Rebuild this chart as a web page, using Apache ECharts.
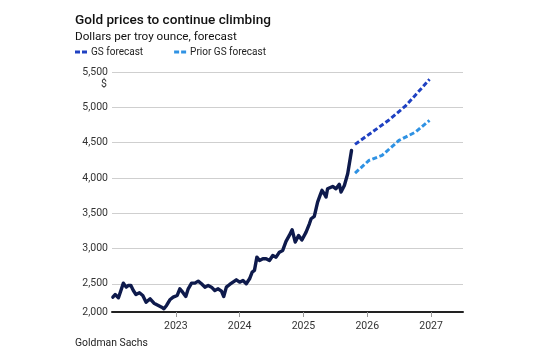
<!DOCTYPE html>
<html><head><meta charset="utf-8">
<script src="https://cdn.jsdelivr.net/npm/echarts@6/dist/echarts.min.js"></script>
<style>html,body{margin:0;padding:0;background:#fff}#c{width:540px;height:360px}</style>
</head><body><div id="c"></div>
<script>
// ---- data ----
const histDates = ['2022-01-06','2022-01-19','2022-02-07','2022-02-21','2022-03-07','2022-03-23','2022-04-05','2022-04-19','2022-05-03','2022-05-18','2022-06-07','2022-06-26','2022-07-15','2022-08-07','2022-08-29','2022-09-23','2022-10-12','2022-10-25','2022-11-09','2022-11-28','2022-12-17','2023-01-09','2023-01-24','2023-02-09','2023-02-27','2023-03-13','2023-04-01','2023-04-20','2023-05-09','2023-05-28','2023-06-16','2023-07-05','2023-07-24','2023-08-12','2023-08-31','2023-09-19','2023-10-02','2023-10-17','2023-11-05','2023-11-24','2023-12-13','2024-01-01','2024-01-20','2024-02-08','2024-02-27','2024-03-13','2024-03-26','2024-04-09','2024-04-24','2024-05-13','2024-06-01','2024-06-20','2024-07-09','2024-07-28','2024-08-16','2024-09-04','2024-09-23','2024-10-12','2024-10-28','2024-11-15','2024-12-04','2024-12-23','2025-01-16','2025-02-04','2025-02-14','2025-03-04','2025-03-23','2025-04-06','2025-04-17','2025-04-30','2025-05-10','2025-05-19','2025-06-17','2025-07-06','2025-07-25','2025-08-04','2025-08-23','2025-09-02','2025-09-11','2025-10-03'];
const histValues = [2310,2348,2301,2405,2509,2452,2476,2476,2405,2348,2372,2334,2239,2287,2225,2193,2168,2146,2193,2273,2310,2334,2429,2381,2320,2429,2509,2509,2537,2500,2452,2476,2452,2405,2429,2395,2320,2452,2490,2523,2556,2523,2547,2500,2571,2665,2689,2877,2830,2854,2854,2830,2901,2877,2948,2972,3100,3185,3265,3090,3185,3120,3232,3350,3421,3454,3657,3752,3823,3776,3728,3846,3879,3846,3908,3799,3893,3870,4059,4390];
const gsDates = ['2025-10-23','2026-01-30','2026-05-05','2026-08-08','2026-10-04','2026-12-23'];
const gsValues = [4475,4650,4820,5020,5175,5396];
const priorDates = ['2025-10-23','2026-01-11','2026-03-27','2026-07-01','2026-10-04','2026-12-23'];
const priorValues = [4068,4248,4319,4531,4649,4815];
const xTickYears = [2023,2024,2025,2026,2027];
const seriesNames = ['Gold price','GS forecast','Prior GS forecast'];

// ---- helpers ----
const toYear = s => { const [y,m,d] = s.split('-').map(Number); const t = Date.UTC(y,m-1,d), a = Date.UTC(y,0,1), b = Date.UTC(y+1,0,1); return y + (t-a)/(b-a); };
const pts = (ds, vs) => ds.map((d,i) => [toYear(d), vs[i]]);
const FONT = 'Roboto';
const fmt = v => v.toLocaleString('en-US');

const chart = echarts.init(document.getElementById('c'), null, {renderer:'canvas'});
chart.setOption({
  animation: false,
  backgroundColor: '#fff',
  grid: {left: 112, right: 77, top: 72, bottom: 48},
  legend: {
    data: [seriesNames[1], seriesNames[2]],
    left: 75, top: 47, padding: 0, itemWidth: 12, itemHeight: 3, itemGap: 31,
    icon: 'path://M0,0h5v3h-5z M7,0h5v3h-5z',
    textStyle: {fontFamily: FONT, fontSize: 10, color: '#222', padding: [0,0,0,-1]}
  },
  graphic: [
    {type:'text', left: 75, top: 14, style:{text:'Gold prices to continue climbing', font:'500 13.6px '+FONT, fill:'#111'}},
    {type:'text', left: 75, top: 31, style:{text:'Dollars per troy ounce, forecast', font:'11.7px '+FONT, fill:'#111'}},
    {type:'text', left: 75, top: 338, style:{text:'Goldman Sachs', font:'10.4px '+FONT, fill:'#222'}},
    {type:'text', x: 107, y: 84, style:{text:'$', font:'10.5px '+FONT, fill:'#333', align:'right', verticalAlign:'middle'}}
  ],
  xAxis: {
    type: 'value', min: 2022, max: 2027.5, interval: 1,
    axisLine: {show: true, lineStyle: {color: '#222', width: 2}},
    axisTick: {show: true, length: 5, lineStyle: {color: '#999'}, customValues: xTickYears},
    axisLabel: {customValues: xTickYears, margin: 9, fontFamily: FONT, fontSize: 10.5, color: '#333',
      formatter: v => (Number.isInteger(v) && v >= 2023) ? String(v) : ''},
    splitLine: {show: false}
  },
  yAxis: {
    type: 'value', min: 2100, max: 5500, splitNumber: 5,
    axisLine: {show: false}, axisTick: {show: false},
    axisLabel: {margin: 4, fontFamily: FONT, fontSize: 10.5, color: '#333',
      formatter: v => v === 2100 ? '2,000' : fmt(v)},
    splitLine: {show: true, lineStyle: {color: '#cfcfcf', width: 1}}
  },
  series: [
    {name: seriesNames[0], type: 'line', data: pts(histDates, histValues), showSymbol: false, symbol: 'none',
      lineStyle: {color: '#0e1a4c', width: 3.4, join: 'round', cap: 'round'}, itemStyle: {color: '#0e1a4c'}, z: 3},
    {name: seriesNames[1], type: 'line', data: pts(gsDates, gsValues), showSymbol: false, symbol: 'none',
      lineStyle: {color: '#1f41c2', width: 3, type: [5,2.5]}, itemStyle: {color: '#1f41c2'}, z: 2},
    {name: seriesNames[2], type: 'line', data: pts(priorDates, priorValues), showSymbol: false, symbol: 'none',
      lineStyle: {color: '#2f92e3', width: 3, type: [5,2.5]}, itemStyle: {color: '#2f92e3'}, z: 2}
  ]
});
</script></body></html>
